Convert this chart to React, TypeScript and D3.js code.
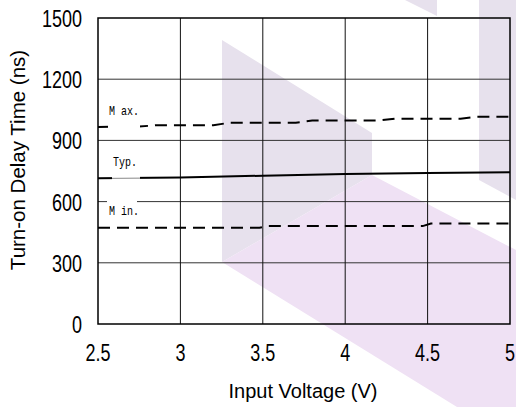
import React from 'react';
import * as d3 from 'd3';

// ── Data ──────────────────────────────────────────────────────────────────────
const xTicks = [2.5, 3, 3.5, 4, 4.5, 5];
const yTicks = [0, 300, 600, 900, 1200, 1500];

const maxSeries: [number, number][] = [
  [2.5, 966], [2.75, 968], [2.85, 974], [3.2, 974], [3.3, 987], [3.7, 987],
  [3.8, 997], [4.2, 997], [4.3, 1006], [4.7, 1006], [4.8, 1016], [5, 1016],
];
const typSeries: [number, number][] = [
  [2.5, 714], [3, 718], [3.5, 727], [4, 735], [4.5, 740], [5, 744],
];
const minSeries: [number, number][] = [
  [2.5, 472], [3.48, 472], [3.53, 480], [4.47, 480], [4.52, 493], [5, 493],
];

// ── Layout ────────────────────────────────────────────────────────────────────
const W = 516;
const H = 407;
const PLOT = { left: 98, right: 510, top: 18, bottom: 324 };
const SANS = '"Liberation Sans", Arial, sans-serif';
const MONO = '"Liberation Mono", "Courier New", monospace';
const STRETCH = 1.3; // the reference glyphs are drawn taller than wide

// watermark behind the plot (light purple shapes)
const WM_GRAY = '#e7e1ed';
const WM_PINK = '#efe1f4';

function Tall({ x, y, anchor, size, font, children }: {
  x: number; y: number; anchor?: 'start' | 'middle' | 'end'; size: number; font: string; children: React.ReactNode;
}) {
  return (
    <text
      transform={`translate(${x},${y}) scale(1,${STRETCH})`}
      textAnchor={anchor ?? 'start'}
      fontFamily={font}
      fontSize={size}
      fill="#000"
    >
      {children}
    </text>
  );
}

export default function App() {
  const x = d3.scaleLinear().domain([2.5, 5]).range([PLOT.left, PLOT.right]);
  const y = d3.scaleLinear().domain([0, 1500]).range([PLOT.bottom, PLOT.top]);

  const line = d3
    .line<[number, number]>()
    .x((d) => x(d[0]))
    .y((d) => y(d[1]));

  return (
    <div style={{ position: 'absolute', left: 0, top: 0, width: W, height: H, background: '#fff' }}>
      <svg width={W} height={H} style={{ display: 'block' }}>
        <rect width={W} height={H} fill="#fff" />

        {/* watermark */}
        <polygon points="222,40 372,133 372,175 222,262" fill={WM_GRAY} />
        <polygon points="222,262 372,175 516,250 516,407 457,407" fill={WM_PINK} />
        <polygon points="479,0 516,0 516,200 479,180" fill={WM_GRAY} />
        <polygon points="405,0 437,0 437,16" fill={WM_GRAY} />

        {/* grid */}
        {yTicks.slice(1, -1).map((t) => (
          <line key={'h' + t} x1={PLOT.left} x2={PLOT.right} y1={y(t)} y2={y(t)} stroke="#333" strokeWidth={1} />
        ))}
        {xTicks.slice(1, -1).map((t) => (
          <line key={'v' + t} x1={x(t)} x2={x(t)} y1={PLOT.top} y2={PLOT.bottom} stroke="#111" strokeWidth={1} />
        ))}

        {/* series */}
        <path d={line(maxSeries) ?? ''} fill="none" stroke="#000" strokeWidth={2} strokeDasharray="12,7" />
        <path d={line(typSeries) ?? ''} fill="none" stroke="#000" strokeWidth={2} />
        <path d={line(minSeries) ?? ''} fill="none" stroke="#000" strokeWidth={2} strokeDasharray="12,7" />

        {/* series labels on white boxes */}
        <rect x={108} y={100} width={32} height={29} fill="#fff" />
        <Tall x={109} y={115} size={10} font={MONO}>M ax.</Tall>

        <rect x={112} y={150} width={28} height={30} fill="#fff" />
        <line x1={112} x2={140} y1={y(714)} y2={y(715)} stroke="#888" strokeWidth={1} />
        <Tall x={113} y={166} size={10} font={MONO}>Typ.</Tall>

        <rect x={107} y={199} width={30} height={22} fill="#fff" />
        <Tall x={109} y={215} size={10} font={MONO}>M in.</Tall>

        {/* frame */}
        <rect
          x={PLOT.left}
          y={PLOT.top}
          width={PLOT.right - PLOT.left}
          height={PLOT.bottom - PLOT.top}
          fill="none"
          stroke="#000"
          strokeWidth={1.5}
        />

        {/* y tick labels */}
        {yTicks.map((t) => (
          <Tall key={'yl' + t} x={82} y={y(t) + 9} anchor="end" size={18} font={SANS}>
            {t}
          </Tall>
        ))}

        {/* x tick labels */}
        {xTicks.map((t) => (
          <Tall key={'xl' + t} x={x(t)} y={361} anchor="middle" size={18} font={SANS}>
            {t}
          </Tall>
        ))}

        {/* axis titles */}
        <text x={303} y={398} textAnchor="middle" fontFamily={SANS} fontSize={20} fill="#000">
          Input Voltage (V)
        </text>
        <text
          transform={`translate(25,160) rotate(-90)`}
          textAnchor="middle"
          fontFamily={SANS}
          fontSize={20.5}
          fill="#000"
        >
          Turn-on Delay Time (ns)
        </text>
      </svg>
    </div>
  );
}
